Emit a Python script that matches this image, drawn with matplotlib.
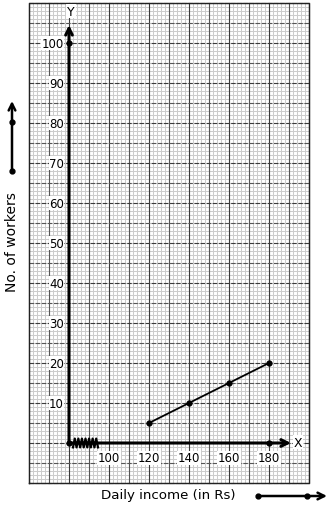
import matplotlib
import matplotlib.pyplot as plt
import numpy as np

matplotlib.use("Agg")

# data
income = [120, 140, 160, 180]
workers = [5, 10, 15, 20]
x_ticks = [100, 120, 140, 160, 180]
y_ticks = [10, 20, 30, 40, 50, 60, 70, 80, 90, 100]
axis_dots_x = [80, 180, 80]
axis_dots_y = [0, 0, 100]

# graph paper extent (data units)
x_lo, x_hi = 60, 200
y_lo, y_hi = -10, 110

fig = plt.figure(figsize=(3.32, 5.10), dpi=100)
ax = fig.add_axes([0, 0, 1, 1])
ax.set_xlim(45.5, 211.5)
ax.set_ylim(-16.5, 111)
ax.axis("off")

# minor grid
for xv in np.arange(x_lo, x_hi + 0.1, 2):
    ax.plot([xv, xv], [y_lo, y_hi], color="#cccccc", lw=0.75, zorder=1)
for yv in np.arange(y_lo, y_hi + 0.1, 1):
    ax.plot([x_lo, x_hi], [yv, yv], color="#cccccc", lw=0.75, zorder=1)
# major grid: vertical solid, horizontal dashed
for i, xv in enumerate(np.arange(x_lo, x_hi + 0.1, 10)):
    c = "#3a3a3a" if i % 2 == 0 else "#555555"
    ax.plot([xv, xv], [y_lo, y_hi], color=c, lw=0.8, zorder=2)
for i, yv in enumerate(np.arange(y_lo, y_hi + 0.1, 5)):
    c = "#3a3a3a" if i % 2 == 0 else "#555555"
    ax.plot([x_lo, x_hi], [yv, yv], color=c, lw=0.8, ls=(0, (4, 1.5)), zorder=2)
ax.plot([x_lo, x_hi, x_hi, x_lo, x_lo], [y_lo, y_lo, y_hi, y_hi, y_lo],
        color="#222222", lw=1.0, zorder=2)

# axes with arrows
ax.annotate("", xy=(80, 104.5), xytext=(80, 0),
            arrowprops=dict(arrowstyle="->", lw=2.2, color="black",
                            mutation_scale=12, shrinkA=0, shrinkB=0), zorder=5)
ax.annotate("", xy=(191, 0), xytext=(80, 0),
            arrowprops=dict(arrowstyle="->", lw=2.2, color="black",
                            mutation_scale=12, shrinkA=0, shrinkB=0), zorder=5)
ax.text(81, 108, "Y", ha="center", va="center", fontsize=9,
        bbox=dict(fc="white", ec="none", pad=0.5), zorder=6)
ax.text(194.5, 0.2, "X", ha="center", va="center", fontsize=9,
        bbox=dict(fc="white", ec="none", pad=0.5), zorder=6)

# axis break zigzag
zx = np.linspace(82, 94.5, 15)
zy = np.where(np.arange(15) % 2 == 0, -1.1, 1.1)
ax.plot(zx, zy, color="black", lw=1.6, zorder=6)

# tick labels
for v in y_ticks:
    ax.text(77.5, v, str(v), ha="right", va="center", fontsize=8.5,
            bbox=dict(fc="white", ec="none", pad=0.3), zorder=6)
for v in x_ticks:
    ax.text(v, -3.7, str(v), ha="center", va="center", fontsize=8.5,
            bbox=dict(fc="white", ec="none", pad=0.3), zorder=6)

# data line
ax.plot(income, workers, color="black", lw=1.3, marker="o", ms=3.5, zorder=7)
ax.plot(axis_dots_x, axis_dots_y, ls="none", marker="o", ms=3.5,
        color="black", zorder=7)

# axis titles with direction arrows
ax.text(51.5, 50.5, "No. of workers", rotation=90, ha="center", va="center",
        fontsize=10)
ax.annotate("", xy=(51.5, 85.5), xytext=(51.5, 68),
            arrowprops=dict(arrowstyle="->", lw=1.8, color="black",
                            mutation_scale=12, shrinkA=0, shrinkB=0))
ax.plot([51.5, 51.5], [68, 80.25], ls="none", marker="o", ms=3.5, color="black")

ax.text(129.5, -13, "Daily income (in Rs)", ha="center", va="center", fontsize=9.6)
ax.annotate("", xy=(209, -13.25), xytext=(174.5, -13.25),
            arrowprops=dict(arrowstyle="->", lw=1.8, color="black",
                            mutation_scale=12, shrinkA=0, shrinkB=0))
ax.plot([174.5, 199], [-13.25, -13.25], ls="none", marker="o", ms=3.5, color="black")

fig.savefig("out.png", dpi=100)
plt.close(fig)
